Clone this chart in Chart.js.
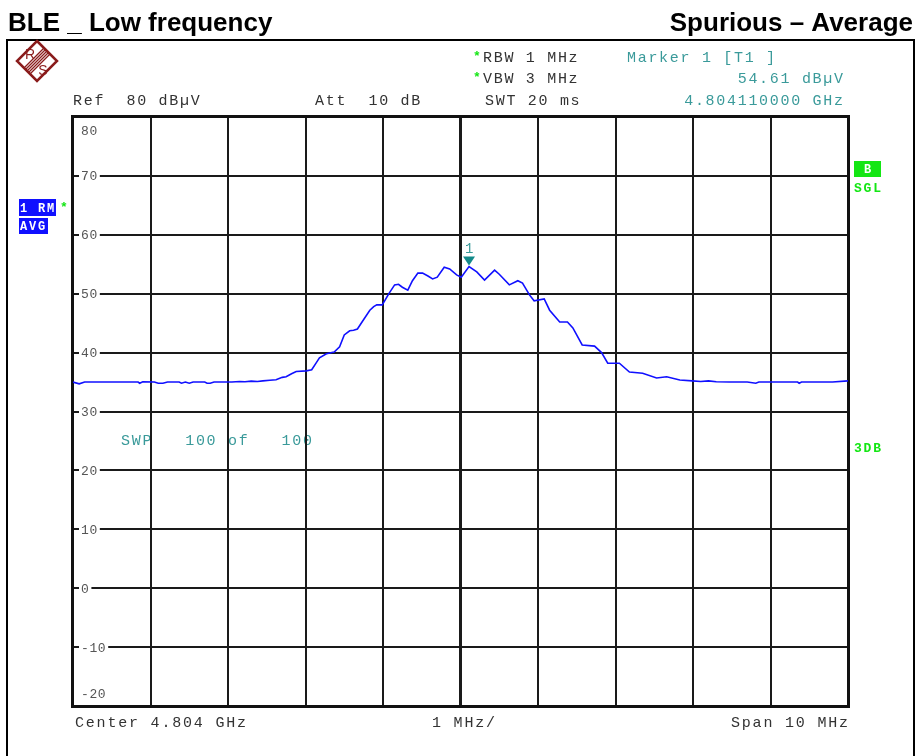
<!DOCTYPE html>
<html>
<head>
<meta charset="utf-8">
<script src="https://cdn.jsdelivr.net/npm/chart.js@4.4.1/dist/chart.umd.min.js"></script>
<style>
  html, body { margin: 0; padding: 0; background: #fff; }
  canvas { display: block; }
</style>
</head>
<body>
<canvas id="c" width="920" height="756"></canvas>
<script>
// frequency offset from centre (MHz) and trace level (dBuV)
const freqMHz = [
  -5.00, -4.92, -4.85, -4.60, -4.35, -4.16, -4.14, -4.10, -3.95, -3.90, -3.84, -3.78,
  -3.63, -3.60, -3.55, -3.50, -3.45, -3.30, -3.27, -3.23, -3.18, -2.95, -2.85, -2.78,
  -2.70, -2.62, -2.55, -2.46, -2.38, -2.30, -2.25, -2.18, -2.12, -1.99, -1.92, -1.86,
  -1.82, -1.73, -1.63, -1.56, -1.50, -1.43, -1.38, -1.33, -1.26, -1.17, -1.12, -1.08,
  -1.01, -0.92, -0.85, -0.80, -0.75, -0.68, -0.62, -0.55, -0.49, -0.42, -0.36, -0.30,
  -0.21, -0.14, -0.05, 0.01, 0.11, 0.21, 0.31, 0.44, 0.50, 0.63, 0.74, 0.80,
  0.89, 0.95, 1.08, 1.15, 1.28, 1.38, 1.45, 1.57, 1.73, 1.82, 1.90, 2.05,
  2.18, 2.35, 2.53, 2.66, 2.83, 2.99, 3.10, 3.20, 3.30, 3.47, 3.70, 3.81,
  3.85, 4.10, 4.35, 4.37, 4.40, 4.60, 4.80, 5.00
];
const levelDb = [
  35.0, 34.7, 35.0, 35.0, 35.0, 35.0, 34.8, 35.05, 35.0, 34.8, 34.8, 35.0,
  35.0, 34.8, 35.0, 34.8, 35.0, 35.0, 34.8, 34.8, 35.0, 35.0, 35.1, 35.05,
  35.15, 35.1, 35.2, 35.3, 35.4, 35.8, 35.9, 36.4, 36.8, 36.9, 37.1, 38.3,
  39.1, 39.8, 40.1, 41.0, 43.0, 43.7, 43.8, 44.0, 45.4, 47.2, 47.8, 48.1,
  48.1, 50.1, 51.5, 51.6, 51.1, 50.6, 52.2, 53.5, 53.5, 53.0, 52.5, 52.8,
  54.5, 54.2, 53.2, 52.8, 54.61, 53.7, 52.3, 54.0, 53.3, 51.5, 52.2, 51.8,
  49.8, 48.8, 49.1, 47.2, 45.2, 45.2, 44.2, 41.3, 41.1, 40.0, 38.2, 38.2,
  36.7, 36.5, 35.7, 35.9, 35.35, 35.2, 35.1, 35.2, 35.05, 35.0, 35.0, 34.8,
  35.0, 35.0, 35.0, 34.8, 35.0, 35.0, 35.0, 35.2
];
const yTicks = [80, 70, 60, 50, 40, 30, 20, 10, 0, -10, -20];
const markerFreq = 0.11;
const markerLevel = 54.61;

const MONO = '"Liberation Mono", "DejaVu Sans Mono", monospace';
const TEAL = '#3a9a9a';
const GREEN = '#14e614';
const BLUE = '#1010ff';

// monospace text drawn char by char at a fixed pitch
function monoText(ctx, str, x, y, size, pitch, color, opts) {
  opts = opts || {};
  ctx.font = (opts.bold ? 'bold ' : '') + size + 'px ' + MONO;
  ctx.fillStyle = color;
  ctx.textBaseline = 'alphabetic';
  ctx.textAlign = 'left';
  let start = x;
  if (opts.right) start = x - ((str.length - 1) * pitch + 0.6 * size);
  for (let i = 0; i < str.length; i++) {
    ctx.fillText(str[i], start + i * pitch, y);
  }
}

const decor = {
  id: 'decor',
  beforeDraw(chart) {
    const ctx = chart.ctx;
    ctx.save();
    // titles
    ctx.fillStyle = '#000';
    ctx.font = 'bold 26px "Liberation Sans", Arial, sans-serif';
    ctx.textBaseline = 'alphabetic';
    ctx.textAlign = 'left';
    ctx.fillText('BLE _ Low frequency', 8, 31);
    ctx.textAlign = 'right';
    ctx.fillText('Spurious \u2013 Average', 913, 31);

    // outer frame
    ctx.strokeStyle = '#000';
    ctx.lineWidth = 2;
    ctx.strokeRect(7, 40, 907, 730);

    // R&S logo
    const cx = 37, cy = 61, r = 20;
    ctx.strokeStyle = '#8a1c1c';
    ctx.fillStyle = '#8a1c1c';
    ctx.lineWidth = 2.5;
    ctx.beginPath();
    ctx.moveTo(cx, cy - r); ctx.lineTo(cx + r, cy); ctx.lineTo(cx, cy + r); ctx.lineTo(cx - r, cy);
    ctx.closePath();
    ctx.stroke();
    ctx.lineWidth = 1.2;
    for (let k = -2; k <= 2; k++) {
      const o = k * 1.5;
      ctx.beginPath();
      ctx.moveTo(cx - r / 2 + o, cy + r / 2 + o);
      ctx.lineTo(cx + r / 2 + o, cy - r / 2 + o);
      ctx.stroke();
    }
    ctx.font = '14px "Liberation Sans", Arial, sans-serif';
    ctx.textAlign = 'center';
    ctx.fillText('R', cx - 7, cy - 2);
    ctx.fillText('S', cx + 6, cy + 14);

    // header readouts
    const P = 10.7, S = 15;
    monoText(ctx, 'Ref  80 dB\u00b5V', 73, 105, S, P, '#333');
    monoText(ctx, 'Att  10 dB', 315, 105, S, P, '#333');
    monoText(ctx, '*', 473, 60, 13, 8, GREEN, { bold: true });
    monoText(ctx, '*', 473, 81, 13, 8, GREEN, { bold: true });
    monoText(ctx, 'RBW 1 MHz', 483, 62, S, P, '#333');
    monoText(ctx, 'VBW 3 MHz', 483, 83, S, P, '#333');
    monoText(ctx, 'SWT 20 ms', 485, 105, S, P, '#333');
    monoText(ctx, 'Marker 1 [T1 ]', 627, 62, S, P, TEAL);
    monoText(ctx, '54.61 dB\u00b5V', 843, 83, S, P, TEAL, { right: true });
    monoText(ctx, '4.804110000 GHz', 843, 105, S, P, TEAL, { right: true });

    // left trace labels
    ctx.fillStyle = BLUE;
    ctx.fillRect(19, 199, 37, 17);
    ctx.fillRect(19, 218, 29, 16);
    ctx.save();
    ctx.beginPath(); ctx.rect(19, 199, 37, 17); ctx.clip();
    monoText(ctx, '1 RM', 20, 212, 12, 9, '#fff', { bold: true });
    ctx.restore();
    monoText(ctx, 'AVG', 20, 230, 12, 9, '#fff', { bold: true });
    monoText(ctx, '*', 60, 211, 13, 8, GREEN, { bold: true });

    // right side labels
    ctx.fillStyle = GREEN;
    ctx.fillRect(854, 161, 27, 16);
    monoText(ctx, 'B', 864, 173, 12, 9, '#fff', { bold: true });
    monoText(ctx, 'SGL', 854, 192, 13, 9.6, GREEN, { bold: true });
    monoText(ctx, '3DB', 854, 452, 13, 9.6, GREEN, { bold: true });

    // sweep count (grid is drawn over it)
    monoText(ctx, 'SWP   100 of   100', 121, 445, S, P, TEAL);

    // footer
    monoText(ctx, 'Center 4.804 GHz', 75, 727, S, 10.8, '#333');
    monoText(ctx, '1 MHz/', 432, 727, S, 10.8, '#333');
    monoText(ctx, 'Span 10 MHz', 848, 727, S, 10.8, '#333', { right: true });
    ctx.restore();
  },
  beforeDatasetsDraw(chart) {
    const ctx = chart.ctx;
    const a = chart.chartArea;
    const ys = chart.scales.y;
    ctx.save();
    // plot frame
    ctx.strokeStyle = '#111';
    ctx.lineWidth = 3;
    ctx.strokeRect(a.left - 0.5, a.top - 0.5, a.right - a.left + 1, a.bottom - a.top + 1);
    // y tick labels inside the plot
    yTicks.forEach((v, i) => {
      const txt = String(v);
      let y = ys.getPixelForValue(v);
      if (i === 0) y += 13;
      else if (i === yTicks.length - 1) y -= 13;
      else {
        ctx.fillStyle = '#fff';
        ctx.fillRect(a.left + 6, y - 3, txt.length * 8.4 + 4, 6);
      }
      monoText(ctx, txt, a.left + 8, y + 4.5, 13, 8.4, '#555');
    });
    ctx.restore();
  },
  afterDatasetsDraw(chart) {
    const ctx = chart.ctx;
    const mx = chart.scales.x.getPixelForValue(markerFreq);
    const my = chart.scales.y.getPixelForValue(markerLevel);
    ctx.save();
    ctx.fillStyle = '#128a8a';
    ctx.beginPath();
    ctx.moveTo(mx - 6, my - 10);
    ctx.lineTo(mx + 6, my - 10);
    ctx.lineTo(mx, my - 1);
    ctx.closePath();
    ctx.fill();
    monoText(ctx, '1', mx - 4, my - 14, 14, 9, TEAL);
    ctx.restore();
  }
};

const points = freqMHz.map((f, i) => ({ x: f, y: levelDb[i] }));

new Chart(document.getElementById('c'), {
  type: 'line',
  data: {
    datasets: [{
      data: points,
      borderColor: BLUE,
      borderWidth: 1.6,
      pointRadius: 0,
      tension: 0,
      fill: false
    }]
  },
  options: {
    responsive: false,
    animation: false,
    devicePixelRatio: 1,
    layout: { padding: { left: 73, right: 72, top: 117, bottom: 50 } },
    plugins: { legend: { display: false }, tooltip: { enabled: false } },
    scales: {
      x: {
        type: 'linear', min: -5, max: 5,
        ticks: { display: false, stepSize: 1 },
        grid: { color: '#1a1a1a', drawTicks: false, lineWidth: c => (c.tick && c.tick.value === 0 ? 3 : 2) },
        border: { display: false }
      },
      y: {
        min: -20, max: 80,
        ticks: { display: false, stepSize: 10 },
        grid: { color: '#1a1a1a', drawTicks: false, lineWidth: 2 },
        border: { display: false }
      }
    }
  },
  plugins: [decor]
});
</script>
</body>
</html>
